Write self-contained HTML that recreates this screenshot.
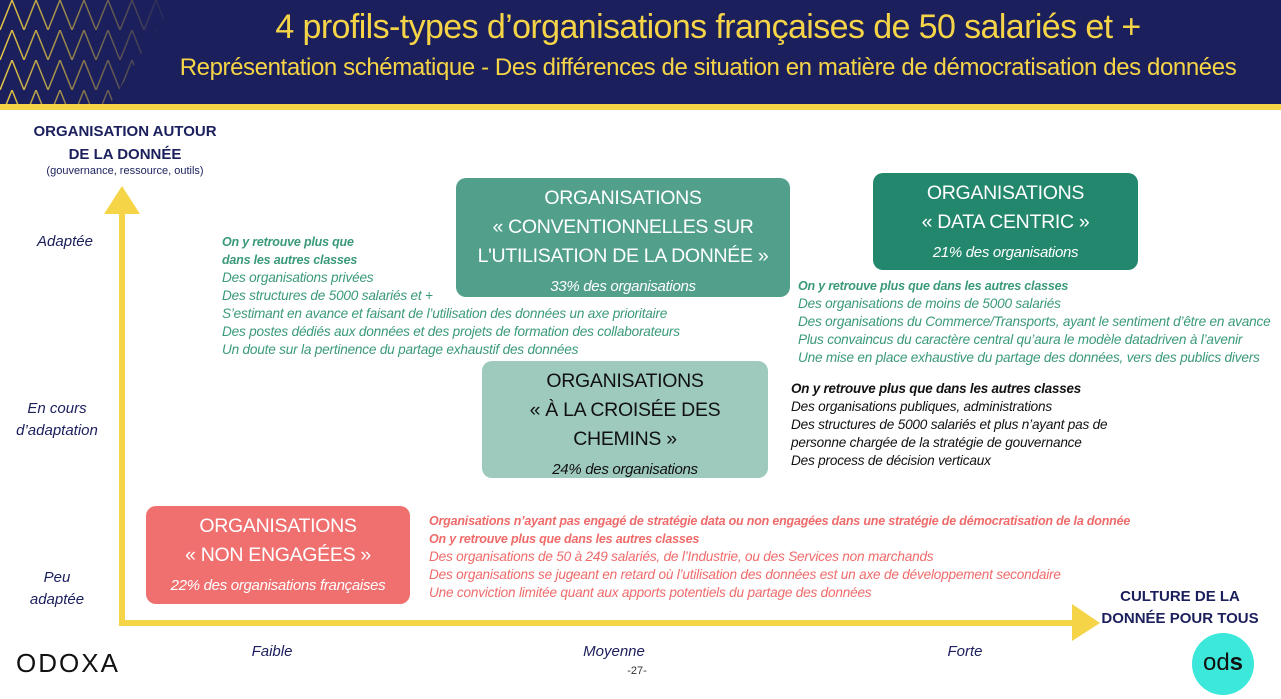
<!DOCTYPE html>
<html><head><meta charset="utf-8"><style>
*{margin:0;padding:0;box-sizing:border-box}
body{width:1281px;height:699px;position:relative;background:#fff;font-family:"Liberation Sans",sans-serif;overflow:hidden}
.a{position:absolute}
.box{position:absolute;border-radius:10px;text-align:center;color:#fff;font-size:19.5px;line-height:29px;padding-top:6px;letter-spacing:-0.3px}
.box i{font-size:15px}
.t{position:absolute;font-style:italic;font-size:13.6px;line-height:18px;white-space:nowrap;letter-spacing:-0.2px}
.t b{font-size:12.5px}
.g{color:#3a9a78}
.k{color:#111}
.k b{font-size:13.4px}
.r{color:#f06a6a}
.ax{position:absolute;font-style:italic;color:#1b1f5c;font-size:15px;text-align:center;line-height:22px}
</style></head><body>
<div class="a" style="left:0;top:0;width:1281px;height:104px;background:#1b1f5c"></div>
<svg class="a" style="left:0;top:0" width="175" height="104">
<defs><pattern id="p" width="24" height="30" patternUnits="userSpaceOnUse"><path d="M0 30 L12 0 M12 0 L24 30" stroke="#e8c843" stroke-width="1.5" fill="none"/></pattern>
<linearGradient id="f" x1="0" x2="1"><stop offset="0" stop-color="#fff" stop-opacity="1"/><stop offset="1" stop-color="#fff" stop-opacity="0"/></linearGradient>
<mask id="m"><polygon points="0,0 175,0 110,104 0,104" fill="url(#f)"/></mask></defs>
<rect width="175" height="104" fill="url(#p)" mask="url(#m)"/></svg>
<div class="a" style="left:0;top:104px;width:1281px;height:6px;background:#f5d547"></div>
<div class="a" style="left:140px;top:8px;width:1136px;text-align:center;color:#f5d547;font-size:34px;letter-spacing:-0.6px">4 profils-types d’organisations françaises de 50 salariés et +</div>
<div class="a" style="left:140px;top:54px;width:1136px;text-align:center;color:#f5d547;font-size:24px;letter-spacing:-0.4px">Représentation schématique - Des différences de situation en matière de démocratisation des données</div>

<div class="a" style="left:5px;top:120px;width:240px;text-align:center;color:#1b1f5c;font-weight:bold;font-size:15px;line-height:23px">ORGANISATION AUTOUR<br>DE LA DONNÉE</div>
<div class="a" style="left:10px;top:165px;width:230px;text-align:center;color:#1b1f5c;font-size:11px">(gouvernance, ressource, outils)</div>

<svg class="a" style="left:0;top:0" width="1281" height="699">
<rect x="119" y="210" width="6" height="416" fill="#f5d547"/>
<polygon points="104,214 122,186 140,214" fill="#f5d547"/>
<rect x="119" y="620" width="956" height="6" fill="#f5d547"/>
<polygon points="1072,604 1100,623 1072,641" fill="#f5d547"/>
</svg>

<div class="ax" style="left:20px;top:231px;width:90px">Adaptée</div>
<div class="ax" style="left:12px;top:398px;width:90px">En cours<br>d’adaptation</div>
<div class="ax" style="left:12px;top:567px;width:90px">Peu<br>adaptée</div>
<div class="ax" style="left:227px;top:641px;width:90px">Faible</div>
<div class="ax" style="left:569px;top:641px;width:90px">Moyenne</div>
<div class="ax" style="left:920px;top:641px;width:90px">Forte</div>
<div class="a" style="left:597px;top:665px;width:80px;text-align:center;font-size:11px;color:#333">-27-</div>

<div class="a" style="left:1098px;top:586px;width:164px;text-align:center;color:#1b1f5c;font-weight:bold;font-size:15px;line-height:22px">CULTURE DE LA<br>DONNÉE POUR TOUS</div>
<div class="a" style="left:1192px;top:633px;width:62px;height:62px;border-radius:50%;background:#3be8da;text-align:center;line-height:60px;font-size:24px;color:#111">od<b>s</b></div>
<div class="a" style="left:16px;top:648px;font-size:26px;color:#111;letter-spacing:2px">ODOXA</div>

<div class="box" style="left:456px;top:178px;width:334px;height:119px;background:#52a08c">ORGANISATIONS<br>« CONVENTIONNELLES SUR<br>L'UTILISATION DE LA DONNÉE »<br><i style="line-height:22px">33% des organisations</i></div>
<div class="box" style="left:873px;top:173px;width:265px;height:97px;background:#23876d">ORGANISATIONS<br>« DATA CENTRIC »<br><i>21% des organisations</i></div>
<div class="box" style="left:482px;top:361px;width:286px;height:117px;background:#9ecabe;color:#111">ORGANISATIONS<br>« À LA CROISÉE DES<br>CHEMINS »<br><i style="line-height:22px">24% des organisations</i></div>
<div class="box" style="left:146px;top:506px;width:264px;height:98px;background:#f07070">ORGANISATIONS<br>« NON ENGAGÉES »<br><i>22% des organisations françaises</i></div>

<div class="t g" style="left:222px;top:233px"><b>On y retrouve plus que<br>dans les autres classes</b><br>Des organisations privées<br>Des structures de 5000 salariés et +<br>S’estimant en avance et faisant de l’utilisation des données un axe prioritaire<br>Des postes dédiés aux données et des projets de formation des collaborateurs<br>Un doute sur la pertinence du partage exhaustif des données</div>
<div class="t g" style="left:798px;top:277px"><b>On y retrouve plus que dans les autres classes</b><br>Des organisations de moins de 5000 salariés<br>Des organisations du Commerce/Transports, ayant le sentiment d’être en avance<br>Plus convaincus du caractère central qu’aura le modèle datadriven à l’avenir<br>Une mise en place exhaustive du partage des données, vers des publics divers</div>
<div class="t k" style="left:791px;top:380px"><b>On y retrouve plus que dans les autres classes</b><br>Des organisations publiques, administrations<br>Des structures de 5000 salariés et plus n’ayant pas de<br>personne chargée de la stratégie de gouvernance<br>Des process de décision verticaux</div>
<div class="t r" style="left:429px;top:512px"><b>Organisations n’ayant pas engagé de stratégie data ou non engagées dans une stratégie de démocratisation de la donnée<br>On y retrouve plus que dans les autres classes</b><br>Des organisations de 50 à 249 salariés, de l’Industrie, ou des Services non marchands<br>Des organisations se jugeant en retard où l’utilisation des données est un axe de développement secondaire<br>Une conviction limitée quant aux apports potentiels du partage des données</div>
</body></html>
